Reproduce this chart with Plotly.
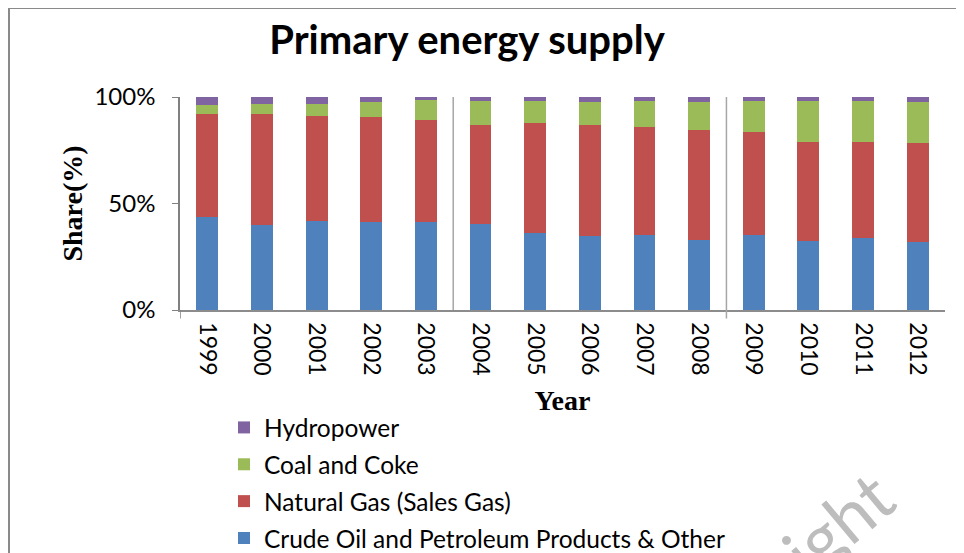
import plotly.graph_objects as go

years = [str(y) for y in range(1999, 2013)]
crude = [43.6, 39.8, 41.7, 41.4, 41.4, 40.3, 36.2, 34.6, 35.0, 32.8, 35.3, 32.4, 33.7, 32.1]
gas = [48.2, 52.0, 49.4, 49.2, 47.6, 46.4, 51.4, 52.1, 50.7, 51.7, 48.1, 46.3, 45.3, 46.1]
coal = [4.6, 5.1, 5.8, 7.2, 9.4, 11.3, 10.7, 11.1, 12.3, 13.0, 14.6, 19.3, 19.0, 19.3]
hydro = [3.6, 3.1, 3.1, 2.2, 1.6, 2.0, 1.7, 2.2, 2.0, 2.5, 2.0, 2.0, 2.0, 2.5]

series = [
    ("Crude Oil and Petroleum Products & Other", crude, "#4F81BD"),
    ("Natural Gas (Sales Gas)", gas, "#C0504D"),
    ("Coal and Coke", coal, "#9BBB59"),
    ("Hydropower", hydro, "#8064A2"),
]

W, H = 964, 553
OFF = 8  # page offset of the figure inside the browser page
L, R, T, B = 180 - OFF, 945 - OFF, 97 - OFF, 310 - OFF

def px(x):  # x in page pixels -> paper
    return (x - OFF - L) / (R - L)

def py(y):  # y in page pixels -> paper
    return (B - (y - OFF)) / (B - T)

fig = go.Figure()
n = len(series)
for i, (name, vals, col) in enumerate(series):
    fig.add_trace(go.Bar(
        x=years, y=vals, name=name, marker=dict(color=col, line=dict(width=0)),
        legendgroup=f"g{i}", legendrank=n - i,
    ))

fig.update_layout(
    width=W, height=H,
    barmode="stack", barnorm="fraction", bargap=0.6,
    margin=dict(l=L, r=W - R, t=T, b=H - B, autoexpand=False),
    plot_bgcolor="white", paper_bgcolor="white",
    font=dict(family="Lato", color="black"),
    title=dict(text="<b>Primary energy supply</b>", x=(467 - OFF) / W, xanchor="center",
               y=1 - (40 - OFF) / H, yanchor="middle", font=dict(size=40, family="Lato", color="black")),
    showlegend=True,
    legend=dict(traceorder="grouped", x=px(224), xanchor="left", y=py(405), yanchor="top",
                font=dict(size=24.5, family="Lato"), tracegroupgap=2, bgcolor="rgba(0,0,0,0)"),
    xaxis=dict(type="category", range=[-0.5, 13.5], tickangle=90, showgrid=False,
               showline=True, linecolor="#8C8C8C", linewidth=1.5, ticks="",
               tickfont=dict(size=23, family="Lato"), ticklabelstandoff=6,
               title=dict(text="<b>Year</b>", font=dict(size=28, family="Liberation Serif"), standoff=16)),
    yaxis=dict(range=[0, 1], tickvals=[0, 0.5, 1], tickformat=".0%", showgrid=False,
               showline=True, linecolor="#808080", linewidth=1.5, ticks="outside", ticklen=6,
               tickcolor="#808080", tickfont=dict(size=24, family="Lato"), ticklabelstandoff=12,
               title=dict(text="<b>Share(%)</b>", font=dict(size=28, family="Liberation Serif"), standoff=4)),
)

# category group separator lines
for xv, y0 in [(4.5, 0), (9.5, -0.04)]:
    fig.add_shape(type="line", xref="x", yref="paper", x0=xv, x1=xv, y0=y0, y1=1,
                  line=dict(color="#A6A6A6", width=1.5))
fig.add_shape(type="line", xref="x", yref="paper", x0=-0.5, x1=-0.5, y0=-0.04, y1=0,
              line=dict(color="#808080", width=1.5))

# outer frame
fig.add_shape(type="rect", xref="paper", yref="paper",
              x0=px(9), x1=px(985), y0=py(580), y1=py(8),
              line=dict(color="#8A8A8A", width=2), fillcolor="rgba(0,0,0,0)", layer="below")

# watermark
fig.add_annotation(text="Copyright", xref="paper", yref="paper", x=px(766), y=py(583),
                   xanchor="center", yanchor="middle",
                   showarrow=False, textangle=-40, font=dict(size=70, family="Lato", color="#BDBDBD"))

fig.write_html("out.html")
